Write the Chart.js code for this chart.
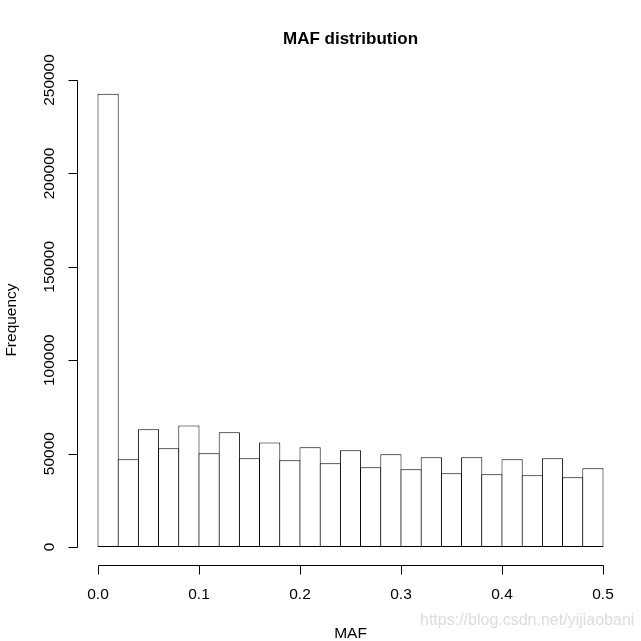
<!DOCTYPE html>
<html>
<head>
<meta charset="utf-8">
<script src="https://cdn.jsdelivr.net/npm/chart.js@4/dist/chart.umd.min.js"></script>
<style>
  html, body { margin: 0; padding: 0; background: #fff; }
  #wrap { width: 641px; height: 641px; }
</style>
</head>
<body>
<div id="wrap"><canvas id="histChart" width="641" height="641"></canvas></div>
<script>
// bin centres (width 0.02) and counts
const binMids = [0.01, 0.03, 0.05, 0.07, 0.09, 0.11, 0.13, 0.15, 0.17, 0.19,
                 0.21, 0.23, 0.25, 0.27, 0.29, 0.31, 0.33, 0.35, 0.37, 0.39,
                 0.41, 0.43, 0.45, 0.47, 0.49];
const counts = [242700, 47000, 63000, 52800, 65100, 50200, 61400, 47500, 56000, 46400,
                53400, 44800, 51800, 42700, 49600, 41600, 48000, 39500, 48000, 38900,
                47000, 38400, 47500, 37300, 42100];
const xTicks = [0, 0.1, 0.2, 0.3, 0.4, 0.5];
const xTickLabels = ['0.0', '0.1', '0.2', '0.3', '0.4', '0.5'];
const yTicks = [0, 50000, 100000, 150000, 200000, 250000];

const FONT = '"Liberation Sans", Arial, sans-serif';

// R style detached axes, labels and title
const rAxes = {
    id: 'rAxes',
    afterDraw(chart) {
        const ctx = chart.ctx;
        const xs = chart.scales.x, ys = chart.scales.y;
        const axisY = Math.round(ys.bottom + 18) + 0.5;
        const axisX = Math.round(xs.left - 21) + 0.5;
        ctx.save();
        ctx.strokeStyle = '#000';
        ctx.fillStyle = '#000';
        ctx.lineWidth = 1;

        // x axis
        const x0 = Math.round(xs.getPixelForValue(xTicks[0])) + 0.5;
        const x1 = Math.round(xs.getPixelForValue(xTicks[xTicks.length - 1])) + 0.5;
        ctx.beginPath();
        ctx.moveTo(x0, axisY);
        ctx.lineTo(x1, axisY);
        xTicks.forEach(v => {
            const px = Math.round(xs.getPixelForValue(v)) + 0.5;
            ctx.moveTo(px, axisY);
            ctx.lineTo(px, axisY + 9);
        });
        ctx.stroke();
        ctx.font = '15.5px ' + FONT;
        ctx.textAlign = 'center';
        ctx.textBaseline = 'alphabetic';
        xTicks.forEach((v, i) => {
            ctx.fillText(xTickLabels[i], xs.getPixelForValue(v), 599);
        });

        // y axis
        const y0 = Math.round(ys.getPixelForValue(yTicks[0])) + 0.5;
        const y1 = Math.round(ys.getPixelForValue(yTicks[yTicks.length - 1])) + 0.5;
        ctx.beginPath();
        ctx.moveTo(axisX, y0);
        ctx.lineTo(axisX, y1);
        yTicks.forEach(v => {
            const py = Math.round(ys.getPixelForValue(v)) + 0.5;
            ctx.moveTo(axisX, py);
            ctx.lineTo(axisX - 9, py);
        });
        ctx.stroke();
        yTicks.forEach(v => {
            ctx.save();
            ctx.translate(54, ys.getPixelForValue(v));
            ctx.rotate(-Math.PI / 2);
            ctx.fillText(String(v), 0, 0);
            ctx.restore();
        });

        // axis titles
        const midX = (xs.left + xs.right) / 2;
        ctx.fillText('MAF', midX, 638);
        ctx.save();
        ctx.translate(15.5, 320);
        ctx.rotate(-Math.PI / 2);
        ctx.fillText('Frequency', 0, 0);
        ctx.restore();

        // main title
        ctx.font = 'bold 17px ' + FONT;
        ctx.fillText('MAF distribution', midX, 44);

        // watermark
        ctx.font = '16px ' + FONT;
        ctx.fillStyle = '#dcdcdc';
        ctx.textAlign = 'left';
        ctx.fillText('https://blog.csdn.net/yijiaobani', 420, 625);
        ctx.restore();
    }
};

// bars overlap by one border width so neighbours share a single edge line
const binPx = 505 / counts.length;

new Chart(document.getElementById('histChart'), {
    type: 'bar',
    data: {
        datasets: [{
            data: binMids.map((m, i) => ({ x: m, y: counts[i] })),
            backgroundColor: '#ffffff',
            borderColor: '#000000',
            borderWidth: 1,
            borderSkipped: false,
            inflateAmount: 0,
            clip: false,
            barPercentage: (binPx + 1) / binPx,
            categoryPercentage: 1
        }]
    },
    options: {
        responsive: false,
        animation: false,
        devicePixelRatio: 1,
        layout: { padding: { left: 98, right: 38, top: 80, bottom: 94 } },
        plugins: { legend: { display: false }, tooltip: { enabled: false } },
        scales: {
            x: { type: 'linear', min: 0, max: 0.5, offset: false, display: false },
            y: { min: 0, max: 250000, display: false }
        }
    },
    plugins: [rAxes]
});
</script>
</body>
</html>
